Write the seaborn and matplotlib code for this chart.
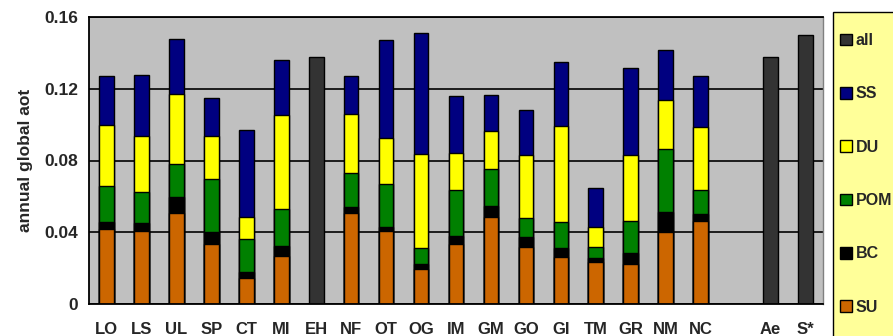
import numpy as np
import pandas as pd
import matplotlib
matplotlib.use("Agg")
import matplotlib.pyplot as plt
from matplotlib.patches import Patch, Rectangle
import seaborn as sns

sns.set_theme(style="white")
plt.rcParams["font.family"] = ["Liberation Sans", "DejaVu Sans"]
plt.rcParams["font.weight"] = "bold"

# data
cats = ["LO", "LS", "UL", "SP", "CT", "MI", "EH", "NF", "OT", "OG", "IM",
        "GM", "GO", "GI", "TM", "GR", "NM", "NC", " ", "Ae", "S*"]
nan = np.nan
su = [0.0417, 0.0407, 0.0506, 0.0335, 0.0147, 0.0268, nan, 0.0506, 0.0407, 0.0195,
      0.0335, 0.0484, 0.0316, 0.0264, 0.0234, 0.0223, 0.0404, 0.0465, nan, nan, nan]
bc = [0.0039, 0.0043, 0.0093, 0.0065, 0.0033, 0.0056, nan, 0.0037, 0.0025, 0.0026,
      0.0045, 0.0063, 0.0056, 0.0047, 0.0025, 0.0060, 0.0108, 0.0037, nan, nan, nan]
pom = [0.0204, 0.0173, 0.0181, 0.0298, 0.0181, 0.0204, nan, 0.0190, 0.0236, 0.0090,
       0.0256, 0.0206, 0.0106, 0.0145, 0.0057, 0.0182, 0.0353, 0.0134, nan, nan, nan]
du = [0.0339, 0.0311, 0.0392, 0.0236, 0.0126, 0.0527, nan, 0.0326, 0.0257, 0.0526,
      0.0205, 0.0209, 0.0354, 0.0537, 0.0116, 0.0367, 0.0274, 0.0350, nan, nan, nan]
ss = [0.0271, 0.0340, 0.0305, 0.0214, 0.0484, 0.0303, nan, 0.0214, 0.0545, 0.0672,
      0.0316, 0.0203, 0.0251, 0.0356, 0.0214, 0.0481, 0.0279, 0.0283, nan, nan, nan]
all_ = [nan, nan, nan, nan, nan, nan, 0.1377, nan, nan, nan, nan,
        nan, nan, nan, nan, nan, nan, nan, nan, 0.1377, 0.1500]

colors = {"SU": "#CC6600", "BC": "#000000", "POM": "#008000",
          "DU": "#FFFF00", "SS": "#000080", "all": "#333333"}

df = pd.DataFrame({"cat": cats, "SU": su, "BC": bc, "POM": pom, "DU": du, "SS": ss, "all": all_})
# cumulative tops for overlay stacking
comps = ["SU", "BC", "POM", "DU", "SS"]
cum = df[comps].cumsum(axis=1, skipna=False)

fig = plt.figure(figsize=(8.93, 3.36), dpi=100)
ax = fig.add_axes([89 / 893, 32 / 336, 734 / 893, 287 / 336])
ax.set_facecolor("#C0C0C0")

ax.set_axisbelow(True)
ax.yaxis.grid(True, color="black", linewidth=1.2)

bw = 0.42
# "all" bars
d = df.dropna(subset=["all"])
sns.barplot(x=d["cat"], y=d["all"], order=cats, color=colors["all"], width=bw,
            edgecolor="black", linewidth=1, errorbar=None, saturation=1, ax=ax)
# stacked bars: draw tallest first
for c in ["SS", "DU", "POM", "BC", "SU"]:
    vals = cum[c]
    m = vals.notna()
    sns.barplot(x=df.loc[m, "cat"], y=vals[m], order=cats, color=colors[c], width=bw,
                edgecolor="black", linewidth=1, errorbar=None, saturation=1, ax=ax)

ax.set_xlim(-0.5, len(cats) - 0.5)
ax.set_ylim(0, 0.16)
ax.set_yticks([0, 0.04, 0.08, 0.12, 0.16])
ax.set_yticklabels(["0", "0.04", "0.08", "0.12", "0.16"], fontsize=12.5, fontweight="bold")
ax.set_xticks(range(len(cats)))
ax.set_xticklabels(cats, fontsize=12, fontweight="bold")
ax.set_xticks(np.arange(-0.5, len(cats)), minor=True)
ax.tick_params(axis="x", which="major", length=0, pad=13)
ax.tick_params(axis="x", which="minor", length=5, width=1.2, color="black", direction="out")
ax.tick_params(axis="y", which="major", length=5, width=1.2, color="black", direction="out", pad=3)
ax.set_xlabel("")
ax.set_ylabel("annual global aot", fontsize=12.5, fontweight="bold", labelpad=8)

for s in ["left", "bottom", "top"]:
    ax.spines[s].set_color("black")
    ax.spines[s].set_linewidth(1.3)
ax.spines["right"].set_color("#808080")
ax.spines["right"].set_linewidth(1)

# legend box
fig.patches.append(Rectangle((833 / 893, -0.02), 0.2, (336 - 12) / 336 + 0.02,
                             transform=fig.transFigure, facecolor="#FFFF99",
                             edgecolor="black", linewidth=1, zorder=0))
handles = [Patch(facecolor=colors[k], edgecolor="black", linewidth=1, label=k)
           for k in ["all", "SS", "DU", "POM", "BC", "SU"]]
fig.legend(handles=handles, loc="upper left", bbox_to_anchor=(840 / 893, 1 - 33 / 336),
           frameon=False, prop={"weight": "bold", "size": 11.5},
           handlelength=0.75, handleheight=0.75, handletextpad=0.25,
           labelspacing=2.4, borderpad=0, borderaxespad=0)

fig.savefig("out.png", dpi=100)
